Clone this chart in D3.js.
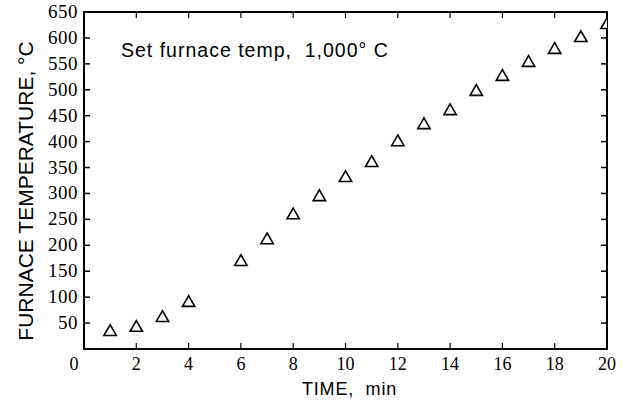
<!DOCTYPE html>
<html lang="en">
    <head>
        <meta charset="utf-8">
        <title>Furnace temperature</title>
        <script src="https://cdn.jsdelivr.net/npm/d3@7"></script>
        <style type="text/css">
            body { margin: 0; background: #fff; }
            .tick-label { font-family: "Liberation Serif", serif; fill: #000; }
            .title { font-family: "Liberation Sans", Arial, sans-serif; fill: #000; white-space: pre; }
        </style>
    </head>
    <body>
        <script type="text/javascript">
            // time in minutes vs furnace temperature (°C)
            const times = [1, 2, 3, 4, 6, 7, 8, 9, 10, 11, 12, 13, 14, 15, 16, 17, 18, 19, 20]
            const temps = [33, 41, 60, 89, 168, 210, 258, 293, 330, 359, 399, 432, 459, 496, 525, 552, 577, 600, 625]
            const xTicks = [0, 2, 4, 6, 8, 10, 12, 14, 16, 18, 20]
            const yTicks = [50, 100, 150, 200, 250, 300, 350, 400, 450, 500, 550, 600, 650]

            const w = 625
            const h = 402
            const plotL = 84, plotR = 607, plotT = 12, plotB = 349

            const svg = d3.select("body")
                            .append("svg")
                            .attr("width", w)
                            .attr("height", h)

            const xScale = d3.scaleLinear().domain([0, 20]).range([plotL, plotR])
            const yScale = d3.scaleLinear().domain([0, 650]).range([plotB, plotT])

            // frame
            svg.append("rect")
                .attr("x", plotL).attr("y", plotT)
                .attr("width", plotR - plotL).attr("height", plotB - plotT)
                .attr("fill", "none").attr("stroke", "#000").attr("stroke-width", 2)

            // inward ticks on all sides
            const tickLen = 6
            svg.append("g").selectAll("line")
                .data(yTicks.filter(d => d < 650))
                .enter().append("line")
                .attr("x1", plotL).attr("x2", plotL + tickLen)
                .attr("y1", d => yScale(d)).attr("y2", d => yScale(d))
                .attr("stroke", "#000").attr("stroke-width", 1.5)
            svg.append("g").selectAll("line")
                .data(yTicks.filter(d => d < 650))
                .enter().append("line")
                .attr("x1", plotR).attr("x2", plotR - tickLen)
                .attr("y1", d => yScale(d)).attr("y2", d => yScale(d))
                .attr("stroke", "#000").attr("stroke-width", 1.5)
            svg.append("g").selectAll("line")
                .data(xTicks.filter(d => d > 0 && d < 20))
                .enter().append("line")
                .attr("x1", d => xScale(d)).attr("x2", d => xScale(d))
                .attr("y1", plotB).attr("y2", plotB - tickLen)
                .attr("stroke", "#000").attr("stroke-width", 1.2)
            svg.append("g").selectAll("line")
                .data(xTicks.filter(d => d > 0 && d < 20))
                .enter().append("line")
                .attr("x1", d => xScale(d)).attr("x2", d => xScale(d))
                .attr("y1", plotT).attr("y2", plotT + tickLen)
                .attr("stroke", "#000").attr("stroke-width", 1.2)

            // tick labels
            svg.append("g").selectAll("text")
                .data(yTicks)
                .enter().append("text")
                .attr("class", "tick-label")
                .attr("font-size", 19)
                .attr("x", 78)
                .attr("y", d => yScale(d) + 6)
                .attr("text-anchor", "end")
                .attr("letter-spacing", "0.5px")
                .text(d => d)
            svg.append("g").selectAll("text")
                .data(xTicks)
                .enter().append("text")
                .attr("class", "tick-label")
                .attr("font-size", 18)
                .attr("x", d => xScale(d) - (d === 0 ? 10 : 0))
                .attr("y", 370)
                .attr("text-anchor", "middle")
                .text(d => d)

            // data
            svg.append("clipPath").attr("id", "plot")
                .append("rect")
                .attr("x", plotL).attr("y", plotT)
                .attr("width", plotR - plotL).attr("height", plotB - plotT)

            const tri = d3.symbol(d3.symbolTriangle, 66)
            svg.append("g")
                .attr("clip-path", "url(#plot)")
                .selectAll("path")
                .data(times)
                .enter().append("path")
                .attr("d", tri)
                .attr("transform", (d, i) => `translate(${xScale(d)}, ${yScale(temps[i])})`)
                .attr("fill", "#fff")
                .attr("stroke", "#000")
                .attr("stroke-width", 1.6)

            // titles
            svg.append("text")
                .attr("class", "title")
                .attr("x", 302).attr("y", 395)
                .attr("font-size", 18)
                .attr("letter-spacing", "0.8px")
                .text("TIME,  min")

            svg.append("text")
                .attr("class", "title")
                .attr("transform", "translate(33, 191) rotate(-90)")
                .attr("text-anchor", "middle")
                .attr("font-size", 21)
                .text("FURNACE TEMPERATURE, °C")

            svg.append("text")
                .attr("class", "title")
                .attr("x", 121).attr("y", 57)
                .attr("font-size", 19.5)
                .attr("letter-spacing", "1px")
                .text("Set furnace temp,  1,000° C")
        </script>
    </body>
</html>
